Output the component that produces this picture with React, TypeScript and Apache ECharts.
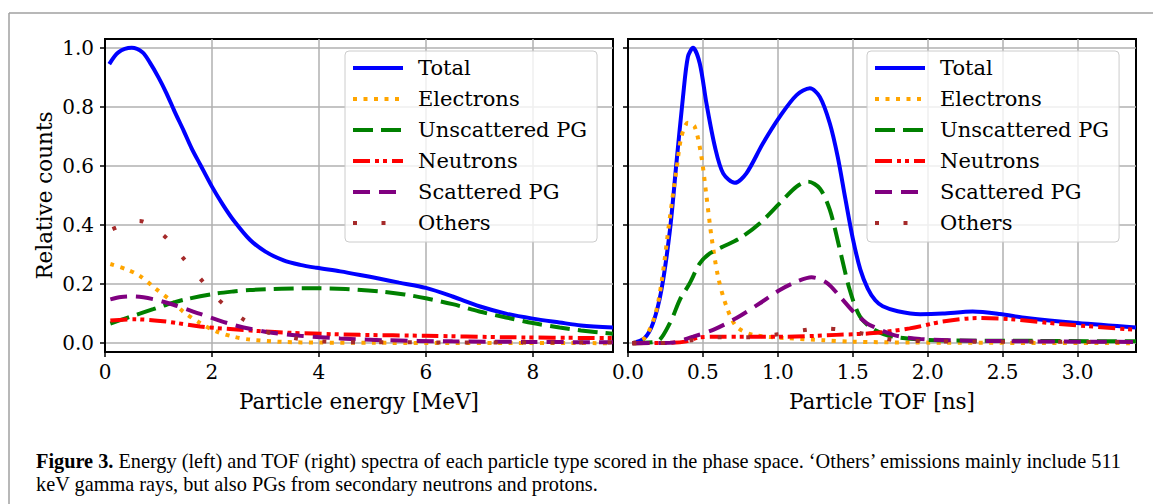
import React, { useEffect, useRef } from "react";
import * as echarts from "echarts";

// ---------- data ----------
const seriesNames = ["Total", "Electrons", "Unscattered PG", "Neutrons", "Scattered PG", "Others"];

// Left panel: relative counts vs particle energy [MeV]
const energyTotal = [[0.08,0.945],[0.25,0.985],[0.5,1.0],[0.7,0.985],[0.84,0.95],[1.0,0.9],[1.15,0.846],[1.3,0.785],[1.47,0.72],[1.62,0.66],[1.78,0.605],[2.0,0.53],[2.2,0.47],[2.4,0.417],[2.71,0.35],[3.0,0.31],[3.34,0.28],[3.65,0.265],[3.96,0.255],[4.4,0.243],[4.77,0.231],[5.14,0.218],[5.5,0.205],[6.0,0.187],[6.5,0.158],[7.0,0.125],[7.5,0.1],[8.0,0.083],[8.5,0.07],[8.9,0.06],[9.5,0.053]];
const energyElectrons = [[0.1,0.268],[0.4,0.25],[0.65,0.228],[0.935,0.186],[1.22,0.146],[1.46,0.107],[1.78,0.068],[2.09,0.039],[2.4,0.022],[2.71,0.012],[3.34,0.004],[4.0,0.002],[5.0,0.001],[9.5,0.0]];
const energyUnscattered = [[0.1,0.066],[0.4,0.085],[0.65,0.1],[0.9,0.115],[1.15,0.13],[1.5,0.148],[2.0,0.166],[2.4,0.175],[2.71,0.18],[3.3,0.184],[3.96,0.186],[4.5,0.183],[5.14,0.175],[5.6,0.165],[6.0,0.152],[6.5,0.132],[7.0,0.107],[7.5,0.087],[8.0,0.068],[8.5,0.053],[8.9,0.043],[9.5,0.032]];
const energyNeutrons = [[0.1,0.077],[0.53,0.081],[1.15,0.073],[1.78,0.056],[2.4,0.047],[3.34,0.036],[4.77,0.028],[6.0,0.025],[7.5,0.02],[9.5,0.017]];
const energyScattered = [[0.1,0.148],[0.3,0.156],[0.53,0.158],[0.9,0.149],[1.28,0.13],[1.78,0.099],[2.4,0.062],[3.02,0.038],[3.65,0.025],[4.4,0.016],[5.2,0.01],[6.5,0.006],[8.0,0.004],[9.5,0.003]];
const energyOthers = [[0.14,0.386],[0.64,0.414],[1.09,0.366],[1.44,0.293],[1.78,0.219],[2.13,0.146],[2.55,0.085],[3.0,0.039],[3.54,0.017],[4.05,0.006],[5.0,0.003],[9.5,0.002]];

// Right panel: relative counts vs particle TOF [ns]
const tofTotal = [[0.03,0.0],[0.11,0.017],[0.167,0.068],[0.223,0.18],[0.28,0.383],[0.323,0.609],[0.367,0.834],[0.4,0.97],[0.434,1.0],[0.479,0.947],[0.524,0.81],[0.58,0.665],[0.635,0.575],[0.713,0.543],[0.79,0.575],[0.9,0.676],[1.013,0.767],[1.125,0.84],[1.214,0.863],[1.28,0.834],[1.347,0.744],[1.4,0.63],[1.45,0.49],[1.5,0.355],[1.55,0.25],[1.6,0.185],[1.65,0.145],[1.7,0.125],[1.8,0.108],[1.95,0.098],[2.1,0.1],[2.3,0.107],[2.48,0.099],[2.66,0.085],[3.0,0.068],[3.39,0.053]];
const tofElectrons = [[0.03,0.0],[0.11,0.017],[0.178,0.09],[0.223,0.203],[0.28,0.428],[0.323,0.586],[0.357,0.7],[0.4,0.746],[0.445,0.733],[0.49,0.631],[0.524,0.496],[0.557,0.361],[0.601,0.225],[0.657,0.124],[0.724,0.056],[0.835,0.028],[1.06,0.017],[1.3,0.01],[1.5,0.005],[1.9,0.002],[3.39,0.0]];
const tofUnscattered = [[0.03,0.0],[0.19,0.005],[0.28,0.068],[0.345,0.146],[0.412,0.203],[0.479,0.27],[0.546,0.304],[0.635,0.327],[0.746,0.355],[0.88,0.406],[1.013,0.474],[1.125,0.53],[1.202,0.547],[1.28,0.524],[1.347,0.451],[1.414,0.316],[1.48,0.18],[1.548,0.09],[1.637,0.047],[1.77,0.022],[2.1,0.009],[2.6,0.008],[3.39,0.006]];
const tofNeutrons = [[0.03,0.0],[0.28,0.001],[0.39,0.006],[0.479,0.02],[0.612,0.022],[1.06,0.022],[1.39,0.028],[1.637,0.034],[1.88,0.05],[2.1,0.073],[2.33,0.085],[2.55,0.081],[2.88,0.065],[3.39,0.045]];
const tofScattered = [[0.03,0.0],[0.28,0.001],[0.434,0.022],[0.568,0.045],[0.724,0.085],[0.88,0.135],[1.013,0.18],[1.125,0.208],[1.225,0.223],[1.325,0.205],[1.414,0.158],[1.503,0.107],[1.592,0.068],[1.637,0.056],[1.77,0.028],[1.95,0.014],[2.3,0.008],[3.39,0.004]];
const tofOthers = [[0.03,0.0],[0.2,0.0],[0.3,0.003],[0.43,0.01],[0.6,0.02],[0.8,0.02],[1.0,0.03],[1.2,0.046],[1.3,0.05],[1.4,0.047],[1.58,0.031],[1.78,0.01],[1.96,0.007],[2.3,0.005],[3.39,0.004]];

const energyTicks = [0, 2, 4, 6, 8];
const tofTicks = [0, 0.5, 1.0, 1.5, 2.0, 2.5, 3.0];
const countTicks = [0, 0.2, 0.4, 0.6, 0.8, 1.0];

const captionLine1 = "Energy (left) and TOF (right) spectra of each particle type scored in the phase space. \u2018Others\u2019 emissions mainly include 511";
const captionLine2 = "keV gamma rays, but also PGs from secondary neutrons and protons.";

// ---------- styles ----------
const FONT = "DejaVu Serif";
const CAP_FONT = "Liberation Serif";
const CAP_SIZE = 20.3;
const styles = [
  { color: "#0000ff", type: "solid" as any },
  { color: "#ffa500", type: [4, 6.5] },
  { color: "#008000", type: [20, 8] },
  { color: "#ff0000", type: [17, 5, 4, 4, 4, 5] },
  { color: "#800080", type: [17, 9] },
  { color: "#a52a2a", type: [4, 24.5] },
];

export default function App() {
  const ref = useRef<HTMLDivElement>(null);
  useEffect(() => {
    document.body.style.margin = "0";
    if (!ref.current) return;
    const chart = echarts.init(ref.current, null, { renderer: "svg" });

    const energyData = [energyTotal, energyElectrons, energyUnscattered, energyNeutrons, energyScattered, energyOthers];
    const tofData = [tofTotal, tofElectrons, tofUnscattered, tofNeutrons, tofScattered, tofOthers];

    const mkSeries = (data: number[][], i: number, gi: number) => ({
      type: "line",
      name: seriesNames[i],
      xAxisIndex: gi,
      yAxisIndex: gi,
      data,
      symbol: "none",
      smooth: 0.3,
      silent: true,
      emphasis: { disabled: true },
      itemStyle: { color: styles[i].color },
      lineStyle: { color: styles[i].color, width: 4, type: styles[i].type, cap: "butt" },
      z: 2,
    });

    const axisCommon = {
      type: "value",
      axisLine: { show: true, onZero: false, lineStyle: { color: "#000", width: 2 } },
      axisTick: { show: true, inside: false, length: 5, lineStyle: { color: "#000", width: 1.5 } },
      splitLine: { show: true, lineStyle: { color: "#b0b0b0", width: 1.5 } },
    };
    const labelFont = { fontFamily: FONT, fontSize: 20, color: "#000" };
    const nameFont = { fontFamily: FONT, fontSize: 21.5, color: "#000" };

    const legendCommon = {
      orient: "vertical",
      top: 51,
      itemWidth: 50,
      itemHeight: 14,
      itemGap: 9,
      padding: [6, 10, 8, 6],
      backgroundColor: "rgba(255,255,255,0.8)",
      borderColor: "#cccccc",
      borderWidth: 1,
      borderRadius: 4,
      selectedMode: false,
      data: seriesNames,
      itemStyle: { opacity: 0, borderWidth: 0 },
      lineStyle: { width: 4, cap: "butt", opacity: 1 },
      textStyle: { fontFamily: FONT, fontSize: 21, color: "#000", lineHeight: 22, padding: [0, 0, 0, 10] },
    };

    chart.setOption({
      animation: false,
      backgroundColor: "#fff",
      grid: [
        { left: 105, top: 39, width: 508, height: 313, show: true, borderColor: "#000", borderWidth: 2, backgroundColor: "transparent" },
        { left: 628, top: 39, width: 508, height: 313, show: true, borderColor: "#000", borderWidth: 2, backgroundColor: "transparent" },
      ],
      xAxis: [
        {
          ...axisCommon, gridIndex: 0, min: 0, max: 9.5, interval: 2,
          axisLabel: { ...labelFont, margin: 10, customValues: energyTicks, formatter: (v: number) => String(v) },
          axisTick: { ...axisCommon.axisTick, customValues: energyTicks },
          name: "Particle energy [MeV]", nameLocation: "middle", nameGap: 38, nameTextStyle: nameFont,
        },
        {
          ...axisCommon, gridIndex: 1, min: 0, max: 3.39, interval: 0.5,
          axisLabel: { ...labelFont, margin: 10, customValues: tofTicks, formatter: (v: number) => v.toFixed(1) },
          axisTick: { ...axisCommon.axisTick, customValues: tofTicks },
          name: "Particle TOF [ns]", nameLocation: "middle", nameGap: 38, nameTextStyle: nameFont,
        },
      ],
      yAxis: [
        {
          ...axisCommon, gridIndex: 0, min: -0.03, max: 1.03, splitNumber: 5,
          axisLabel: { ...labelFont, margin: 11, customValues: countTicks, formatter: (v: number) => v.toFixed(1) },
          axisTick: { ...axisCommon.axisTick, customValues: countTicks },
          name: "Relative counts", nameLocation: "middle", nameGap: 50, nameRotate: 90, nameTextStyle: nameFont,
        },
        {
          ...axisCommon, gridIndex: 1, min: -0.03, max: 1.03, splitNumber: 5,
          axisLabel: { show: false },
          axisTick: { ...axisCommon.axisTick, customValues: countTicks },
        },
      ],
      legend: [
        { ...legendCommon, left: 345 },
        { ...legendCommon, left: 867 },
      ],
      series: [
        ...energyData.map((d, i) => mkSeries(d, i, 0)),
        ...tofData.map((d, i) => mkSeries(d, i, 1)),
      ],
      graphic: [
        { type: "line", silent: true, shape: { x1: 9, y1: 13, x2: 1153, y2: 13 }, style: { stroke: "#a0a0a0", lineWidth: 1.5 } },
        { type: "line", silent: true, shape: { x1: 9, y1: 13, x2: 9, y2: 504 }, style: { stroke: "#a0a0a0", lineWidth: 1.5 } },
        {
          type: "text", silent: true, x: 36, y: 461,
          style: {
            text: "{b|Figure 3.} " + captionLine1,
            verticalAlign: "middle",
            fontFamily: CAP_FONT, fontSize: CAP_SIZE, fill: "#000",
            rich: { b: { fontFamily: CAP_FONT, fontSize: CAP_SIZE, fontWeight: "bold", fill: "#000" } },
          },
        },
        {
          type: "text", silent: true, x: 36, y: 484,
          style: { text: captionLine2, verticalAlign: "middle", fontFamily: CAP_FONT, fontSize: CAP_SIZE, fill: "#000" },
        },
      ],
    });
    return () => chart.dispose();
  }, []);
  return <div ref={ref} style={{ width: 1153, height: 504 }} />;
}
